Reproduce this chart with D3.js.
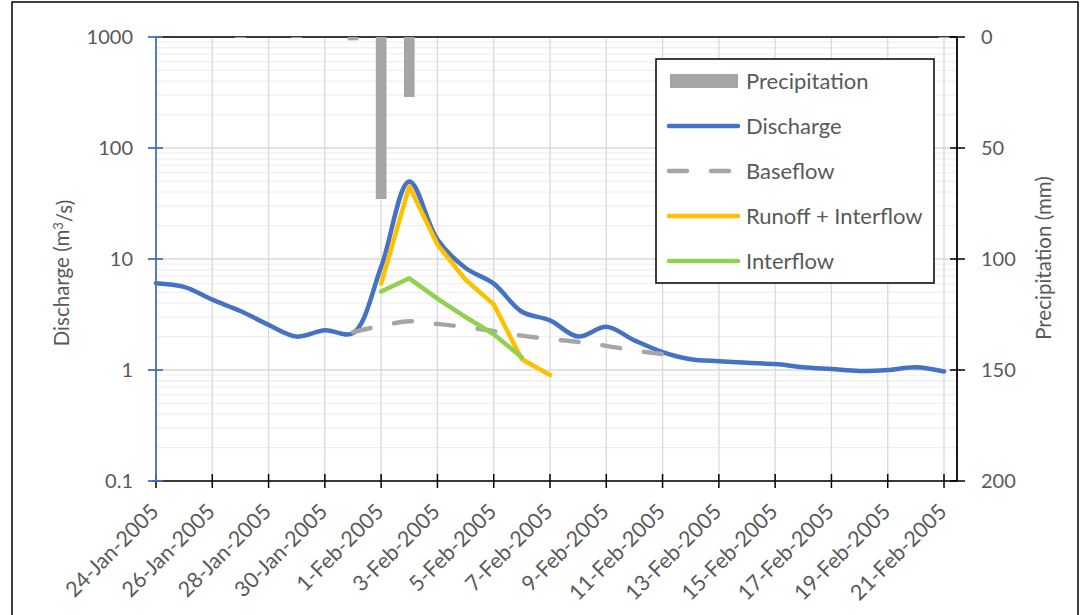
<!DOCTYPE html>
<html>
<head>
<meta charset="utf-8">
<script src="https://cdn.jsdelivr.net/npm/d3@7/dist/d3.min.js"></script>
<style>
  html, body { margin: 0; padding: 0; background: #fff; }
  svg { display: block; }
  text { font-family: Lato, "Open Sans", sans-serif; fill: #595959; }
</style>
</head>
<body>
<svg id="chart" width="1085" height="615"></svg>
<script>
// Daily hydrograph, 24 Jan – 21 Feb 2005
const dates = [
  "2005-01-24","2005-01-25","2005-01-26","2005-01-27","2005-01-28","2005-01-29","2005-01-30","2005-01-31",
  "2005-02-01","2005-02-02","2005-02-03","2005-02-04","2005-02-05","2005-02-06","2005-02-07","2005-02-08",
  "2005-02-09","2005-02-10","2005-02-11","2005-02-12","2005-02-13","2005-02-14","2005-02-15","2005-02-16",
  "2005-02-17","2005-02-18","2005-02-19","2005-02-20","2005-02-21"
];
// Discharge (m3/s)
const discharge = [6.05, 5.6, 4.3, 3.4, 2.55, 2.0, 2.28, 2.15,
  8.5, 50, 15, 8.3, 6.0, 3.35, 2.8, 2.0, 2.45, 1.85, 1.45, 1.25, 1.2, 1.16, 1.13, 1.06, 1.02, 0.98, 1.0, 1.06, 0.97];
// Precipitation (mm)
const precipitation = [0, 0, 0, 0.5, 0, 0.5, 0, 1.5,
  73, 27, 0, 0, 0, 0, 0, 0, 0, 0, 0, 0, 0, 0, 0, 0, 0, 0, 0, 0, 0.5];
// Baseflow (m3/s), 31 Jan – 11 Feb
const baseflowDates = ["2005-01-31","2005-02-01","2005-02-02","2005-02-03","2005-02-04","2005-02-05",
  "2005-02-06","2005-02-07","2005-02-08","2005-02-09","2005-02-10","2005-02-11"];
const baseflow = [2.2, 2.5, 2.75, 2.6, 2.44, 2.24, 2.04, 1.9, 1.79, 1.65, 1.5, 1.39];
// Runoff + Interflow (m3/s), 1 – 7 Feb
const runoffDates = ["2005-02-01","2005-02-02","2005-02-03","2005-02-04","2005-02-05","2005-02-06","2005-02-07"];
const runoff = [6.0, 45, 13.5, 6.5, 3.9, 1.25, 0.9];
// Interflow (m3/s), 1 – 6 Feb
const interflowDates = ["2005-02-01","2005-02-02","2005-02-03","2005-02-04","2005-02-05","2005-02-06"];
const interflow = [5.1, 6.7, 4.4, 3.0, 2.1, 1.3];

const leftTicks = [0.1, 1, 10, 100, 1000];
const rightTicks = [0, 50, 100, 150, 200];

const legendItems = [
  { name: "Precipitation", kind: "bar", color: "#A5A5A5" },
  { name: "Discharge", kind: "line", color: "#4472C4" },
  { name: "Baseflow", kind: "dash", color: "#A5A5A5" },
  { name: "Runoff + Interflow", kind: "line", color: "#FFC000" },
  { name: "Interflow", kind: "line", color: "#92D050" }
];

const parse = d3.utcParse("%Y-%m-%d");
const fmt = d3.utcFormat("%-d-%b-%Y");

const svg = d3.select("#chart");
const plot = { left: 156, right: 957, top: 37, bottom: 481 };

const x = d3.scaleUtc()
  .domain([parse(dates[0]), parse(dates[dates.length - 1])])
  .range([156, 944]);
const y = d3.scaleLog().domain([0.1, 1000]).range([plot.bottom, plot.top]);
const y2 = d3.scaleLinear().domain([0, 200]).range([plot.top, plot.bottom]);

const tickDates = dates.filter((d, i) => i % 2 === 0).map(parse);

// outer frame
svg.append("rect").attr("x", 12).attr("y", 2).attr("width", 1066).attr("height", 640)
  .attr("fill", "none").attr("stroke", "#000").attr("stroke-width", 1.5);

// horizontal grid: minor then major
const minor = [];
for (let e = -1; e < 3; e++) for (let m = 2; m <= 9; m++) minor.push(m * Math.pow(10, e));
svg.append("g").selectAll("line").data(minor).join("line")
  .attr("x1", plot.left).attr("x2", plot.right)
  .attr("y1", d => y(d)).attr("y2", d => y(d))
  .attr("stroke", "#f0f0f0").attr("stroke-width", 1.3);
svg.append("g").selectAll("line").data(leftTicks).join("line")
  .attr("x1", plot.left).attr("x2", plot.right)
  .attr("y1", d => y(d)).attr("y2", d => y(d))
  .attr("stroke", "#d9d9d9").attr("stroke-width", 1.3);
// vertical grid
svg.append("g").selectAll("line").data(tickDates).join("line")
  .attr("x1", d => x(d)).attr("x2", d => x(d))
  .attr("y1", plot.top).attr("y2", plot.bottom)
  .attr("stroke", "#d9d9d9").attr("stroke-width", 1.3);

// top secondary axis line
svg.append("line").attr("x1", plot.left).attr("x2", plot.right).attr("y1", plot.top).attr("y2", plot.top)
  .attr("stroke", "#000").attr("stroke-width", 1.5);

// precipitation bars hanging from the top
const barW = 10.7;
svg.append("g").selectAll("rect").data(dates.map((d, i) => ({ d: parse(d), v: precipitation[i] })).filter(p => p.v > 0))
  .join("rect")
  .attr("x", p => x(p.d) - barW / 2).attr("width", barW)
  .attr("y", y2(0)).attr("height", p => y2(p.v) - y2(0))
  .attr("fill", "#A5A5A5");

// series
const lineOf = (curve) => d3.line().x(p => x(p.d)).y(p => y(p.v)).curve(curve);
const pts = (ds, vs) => ds.map((d, i) => ({ d: parse(d), v: vs[i] }));

const series = svg.append("g").attr("fill", "none").attr("stroke-linecap", "round").attr("stroke-linejoin", "round");
series.append("path").attr("d", lineOf(d3.curveCatmullRom.alpha(0.5))(pts(dates, discharge)))
  .attr("stroke", "#4472C4").attr("stroke-width", 4.5);
series.append("path").attr("d", lineOf(d3.curveCatmullRom.alpha(0.5))(pts(baseflowDates, baseflow)))
  .attr("stroke", "#A5A5A5").attr("stroke-width", 4.5).attr("stroke-dasharray", "18,24");
series.append("path").attr("d", lineOf(d3.curveLinear)(pts(runoffDates, runoff)))
  .attr("stroke", "#FFC000").attr("stroke-width", 4.5);
series.append("path").attr("d", lineOf(d3.curveLinear)(pts(interflowDates, interflow)))
  .attr("stroke", "#92D050").attr("stroke-width", 4.5);

// bottom axis
const xAxis = svg.append("g").attr("transform", `translate(0,${plot.bottom})`);
xAxis.append("line").attr("x1", plot.left - 4).attr("x2", plot.right).attr("stroke", "#000").attr("stroke-width", 1.5);
xAxis.selectAll("line.tk").data(tickDates).join("line").attr("class", "tk")
  .attr("x1", d => x(d)).attr("x2", d => x(d)).attr("y1", -7).attr("y2", 7)
  .attr("stroke", "#000").attr("stroke-width", 1.5);
xAxis.selectAll("text").data(tickDates).join("text")
  .attr("text-anchor", "end")
  .attr("transform", d => `translate(${x(d) + 4},${32}) rotate(-45)`)
  .style("font-size", "21.5px")
  .text(d => fmt(d));

// left axis (log)
const yAxis = svg.append("g");
yAxis.append("line").attr("x1", plot.left).attr("x2", plot.left).attr("y1", plot.top).attr("y2", plot.bottom)
  .attr("stroke", "#4472C4").attr("stroke-width", 1.8);
yAxis.selectAll("line.tk").data(leftTicks).join("line").attr("class", "tk")
  .attr("x1", plot.left - 8).attr("x2", plot.left + 7).attr("y1", d => y(d)).attr("y2", d => y(d))
  .attr("stroke", "#4472C4").attr("stroke-width", 1.8);
yAxis.selectAll("text").data(leftTicks).join("text")
  .attr("x", 133).attr("y", d => y(d)).attr("dy", "0.36em").attr("text-anchor", "end")
  .style("font-size", "20px")
  .text(d => d3.format("~g")(d));

// right axis (precipitation, inverted)
const y2Axis = svg.append("g");
y2Axis.append("line").attr("x1", plot.right).attr("x2", plot.right).attr("y1", plot.top).attr("y2", plot.bottom)
  .attr("stroke", "#000").attr("stroke-width", 1.8);
y2Axis.selectAll("line.tk").data(rightTicks).join("line").attr("class", "tk")
  .attr("x1", plot.right - 7).attr("x2", plot.right + 8).attr("y1", d => y2(d)).attr("y2", d => y2(d))
  .attr("stroke", "#000").attr("stroke-width", 1.5);
y2Axis.selectAll("text").data(rightTicks).join("text")
  .attr("x", 981).attr("y", d => y2(d)).attr("dy", "0.36em").attr("text-anchor", "start")
  .style("font-size", "20px")
  .text(d => d);

// axis titles
const leftTitle = svg.append("text").attr("transform", "translate(69,273) rotate(-90)")
  .attr("text-anchor", "middle").style("font-size", "20.5px");
leftTitle.append("tspan").text("Discharge (m");
leftTitle.append("tspan").text("3").attr("dy", "-0.45em").style("font-size", "13px");
leftTitle.append("tspan").text("/s)").attr("dy", "0.45em");
svg.append("text").attr("transform", "translate(1051,258) rotate(-90)")
  .attr("text-anchor", "middle").style("font-size", "20.5px")
  .text("Precipitation (mm)");

// legend
const lg = svg.append("g");
lg.append("rect").attr("x", 656).attr("y", 59).attr("width", 278).attr("height", 224)
  .attr("fill", "#fff").attr("stroke", "#000").attr("stroke-width", 1.5);
const rowY = d3.scalePoint().domain(legendItems.map(d => d.name)).range([81, 261]);
legendItems.forEach(it => {
  const cy = rowY(it.name);
  if (it.kind === "bar") {
    lg.append("rect").attr("x", 670).attr("y", cy - 7).attr("width", 68).attr("height", 14).attr("fill", it.color);
  } else {
    lg.append("line").attr("x1", 669).attr("x2", 738).attr("y1", cy).attr("y2", cy)
      .attr("stroke", it.color).attr("stroke-width", 4.5).attr("stroke-linecap", "round")
      .attr("stroke-dasharray", it.kind === "dash" ? "18,24" : null);
  }
  lg.append("text").attr("x", 746).attr("y", cy).attr("dy", "0.36em")
    .style("font-size", "22px").text(it.name);
});
</script>
</body>
</html>
